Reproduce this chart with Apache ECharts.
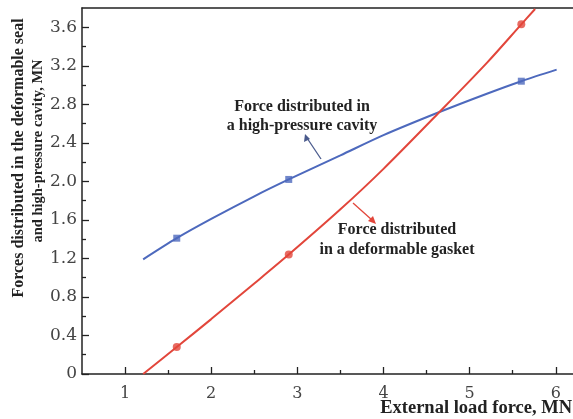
<!DOCTYPE html>
<html><head><meta charset="utf-8">
<script src="https://cdn.jsdelivr.net/npm/echarts@6/dist/echarts.min.js"></script>
<style>html,body{margin:0;padding:0;background:#fff}#c{width:573px;height:419px}</style>
</head><body><div id="c"></div>
<script>
// ---- data ----
const cavityX = [1.21, 1.6, 2.0, 2.5, 2.9, 3.5, 4.0, 4.65, 5.2, 5.6, 6.01];
const cavityY = [1.19, 1.41, 1.61, 1.845, 2.02, 2.27, 2.48, 2.72, 2.91, 3.04, 3.16];
const gasketX = [1.21, 1.6, 2.0, 2.5, 2.9, 3.5, 4.0, 4.65, 5.2, 5.6, 5.76];
const gasketY = [0.0, 0.28, 0.57, 0.94, 1.24, 1.71, 2.13, 2.72, 3.23, 3.63, 3.79];
const markerX = [1.6, 2.9, 5.6];
const cavityMarkY = [1.41, 2.02, 3.04];
const gasketMarkY = [0.28, 1.24, 3.63];
const xMajor = [1, 2, 3, 4, 5, 6];
const xMinor = [1.5, 2.5, 3.5, 4.5, 5.5];
const yMajor = [0, 0.4, 0.8, 1.2, 1.6, 2.0, 2.4, 2.8, 3.2, 3.6];
const yMinor = [0.2, 0.6, 1.0, 1.4, 1.8, 2.2, 2.6, 3.0, 3.4];
const yTitle = ['Forces distributed in the deformable seal', 'and high-pressure cavity, MN'];
const xTitle = 'External load force, MN';
const note1 = 'Force distributed in\na high-pressure cavity';
const note2 = 'Force distributed\nin a deformable gasket';

const BLUE = '#4d69bd', RED = '#e2463b', AX = '#222';
const zip = (a, b) => a.map((v, i) => [v, b[i]]);
const serif = 'DejaVu Serif';
const bold = 'Liberation Serif';
const yLabelFmt = v => (v === 0 ? '0' : v.toFixed(1));
const titleStyle = (size) => ({ fontFamily: bold, fontWeight: 'bold', fontSize: size, fill: '#222' });

const chart = echarts.init(document.getElementById('c'));
chart.setOption({
  animation: false,
  grid: { left: 82, top: 8, right: 0, bottom: 45 },
  xAxis: [
    { type: 'value', min: 0.5, max: 6.2, position: 'bottom',
      axisLine: { lineStyle: { color: AX, width: 1.5 } },
      axisTick: { inside: true, length: 7, customValues: xMajor, lineStyle: { color: AX, width: 1.3 } },
      axisLabel: { customValues: xMajor, fontFamily: serif, fontSize: 16, color: '#444', margin: 12 },
      splitLine: { show: false } },
    { type: 'value', min: 0.5, max: 6.2, position: 'bottom',
      axisLine: { show: false },
      axisTick: { inside: true, length: 4, customValues: xMinor, lineStyle: { color: AX, width: 1.3 } },
      axisLabel: { show: false }, splitLine: { show: false } },
    { type: 'value', min: 0.5, max: 6.2, position: 'top',
      axisLine: { lineStyle: { color: AX, width: 1.5 } },
      axisTick: { show: false }, axisLabel: { show: false }, splitLine: { show: false } }
  ],
  yAxis: [
    { type: 'value', min: 0, max: 3.8, position: 'left',
      axisLine: { show: true, lineStyle: { color: AX, width: 1.5 } },
      axisTick: { show: true, inside: true, length: 7, customValues: yMajor, lineStyle: { color: AX, width: 1.3 } },
      axisLabel: { customValues: yMajor, formatter: yLabelFmt, fontFamily: serif, fontSize: 17, color: '#444', margin: 5 },
      splitLine: { show: false } },
    { type: 'value', min: 0, max: 3.8, position: 'left',
      axisLine: { show: false },
      axisTick: { show: true, inside: true, length: 4, customValues: yMinor, lineStyle: { color: AX, width: 1.3 } },
      axisLabel: { show: false }, splitLine: { show: false } }
  ],
  series: [
    { type: 'line', data: zip(cavityX, cavityY), smooth: 0.3, showSymbol: false,
      lineStyle: { color: BLUE, width: 2 }, z: 3 },
    { type: 'line', data: zip(gasketX, gasketY), smooth: 0.3, showSymbol: false,
      lineStyle: { color: RED, width: 2 }, z: 3 },
    { type: 'scatter', data: zip(markerX, cavityMarkY), symbol: 'rect', symbolSize: 7,
      itemStyle: { color: BLUE }, z: 4 },
    { type: 'scatter', data: zip(markerX, gasketMarkY), symbol: 'circle', symbolSize: 8,
      itemStyle: { color: RED }, z: 4 }
  ],
  graphic: [
    { type: 'text', x: 19, y: 158, rotation: Math.PI / 2,
      style: Object.assign({ text: yTitle[0], align: 'center', verticalAlign: 'middle' }, titleStyle(16)) },
    { type: 'text', x: 38, y: 151, rotation: Math.PI / 2,
      style: Object.assign({ text: yTitle[1], align: 'center', verticalAlign: 'middle' }, titleStyle(14.5)) },
    { type: 'text', x: 572, y: 408,
      style: Object.assign({ text: xTitle, align: 'right', verticalAlign: 'middle' }, titleStyle(18.5)) },
    { type: 'text', x: 302, y: 116,
      style: Object.assign({ text: note1, align: 'center', verticalAlign: 'middle', lineHeight: 19 }, titleStyle(16)) },
    { type: 'text', x: 397, y: 240,
      style: Object.assign({ text: note2, align: 'center', verticalAlign: 'middle', lineHeight: 20 }, titleStyle(16)) },
    { type: 'line', shape: { x1: 321, y1: 159, x2: 307, y2: 138 }, style: { stroke: '#4a5a8c', lineWidth: 1.3 } },
    { type: 'polygon', shape: { points: [[305, 134], [304, 142], [310, 139]] }, style: { fill: '#4a5a8c' } },
    { type: 'line', shape: { x1: 353, y1: 203, x2: 372, y2: 220 }, style: { stroke: RED, lineWidth: 1.3 } },
    { type: 'polygon', shape: { points: [[376, 224], [368, 221], [373, 216]] }, style: { fill: RED } }
  ]
});
</script></body></html>
